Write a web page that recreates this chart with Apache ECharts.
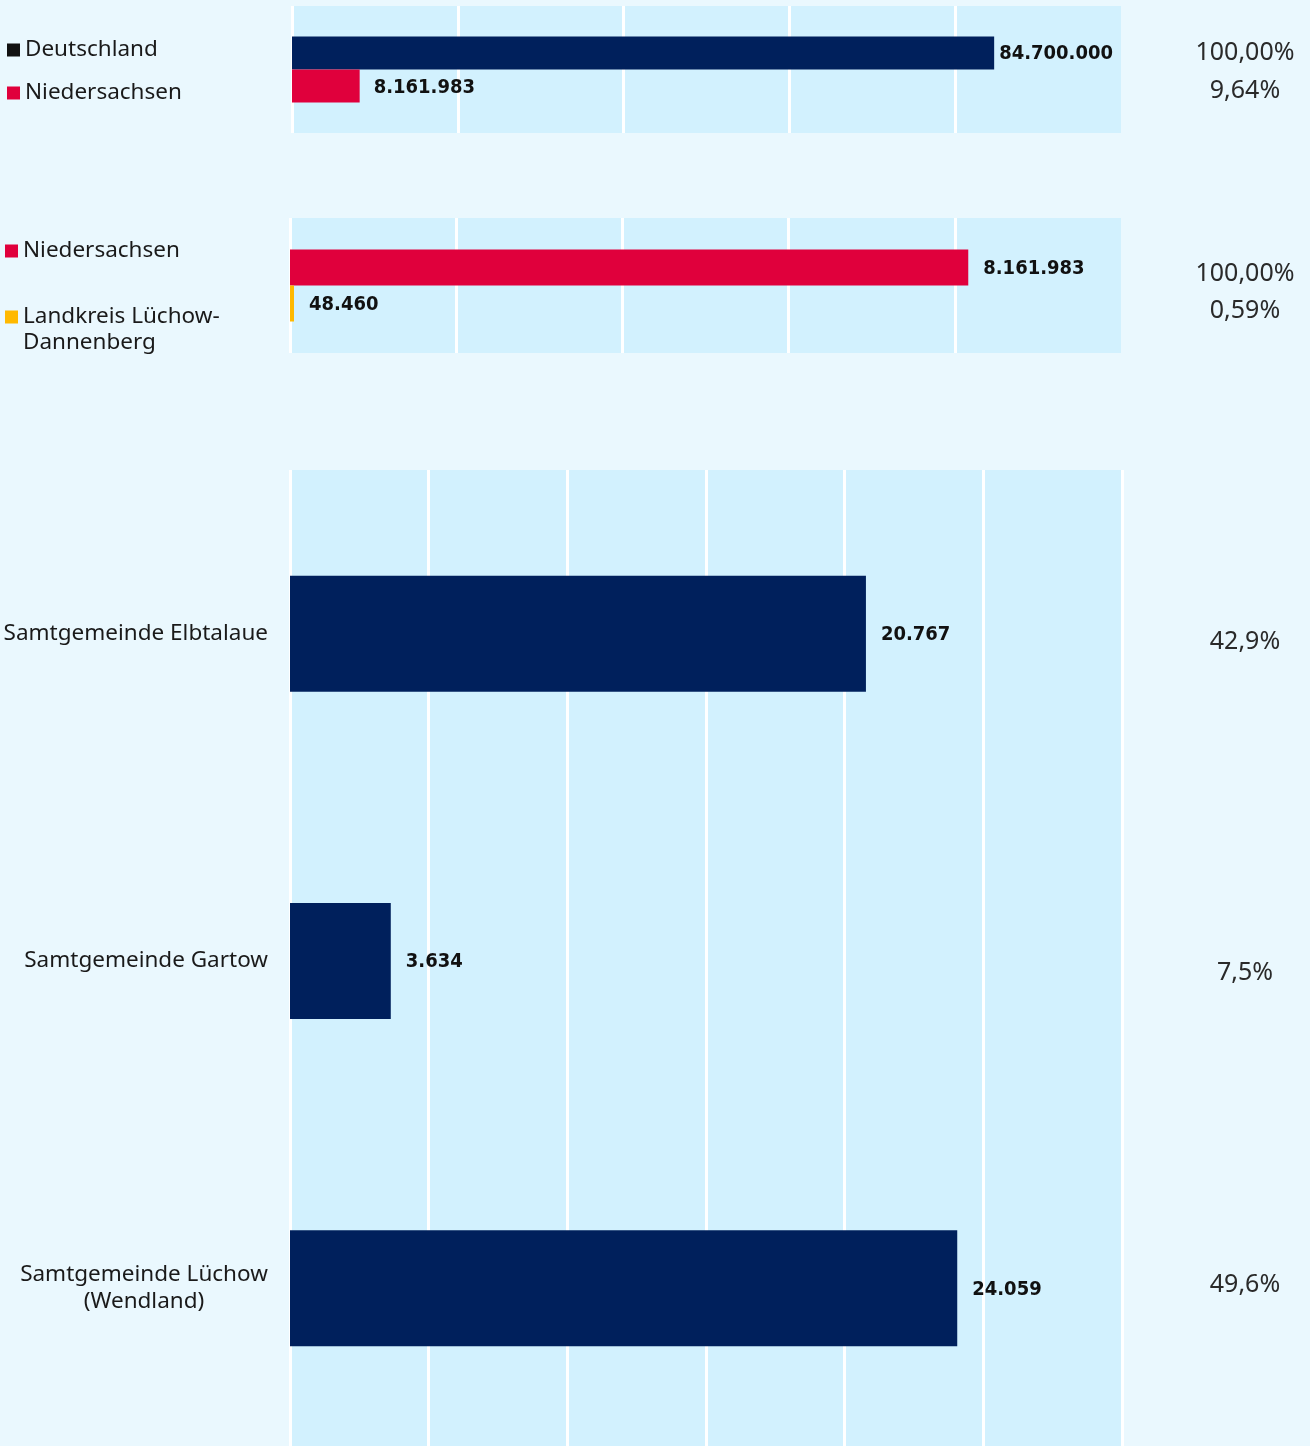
<!DOCTYPE html>
<html>
<head>
<meta charset="utf-8">
<script src="https://cdn.jsdelivr.net/npm/echarts@6/dist/echarts.min.js"></script>
<style>
html, body { margin: 0; padding: 0; background: #eaf8fe; overflow: hidden; }
#chart { width: 1310px; height: 1460px; }
</style>
</head>
<body>
<div id="chart"></div>
<script>
// Einwohner Deutschland / Niedersachsen
var top1Names = ['Deutschland', 'Niedersachsen'];
var top1Values = [84700000, 8161983];
var top1Pct = ['100,00%', '9,64%'];

// Einwohner Niedersachsen / Landkreis
var top2Names = ['Niedersachsen', 'Landkreis Lüchow-Dannenberg'];
var top2Values = [8161983, 48460];
var top2Pct = ['100,00%', '0,59%'];

// Samtgemeinden im Landkreis
var sgNames = ['Samtgemeinde Elbtalaue', 'Samtgemeinde Gartow', 'Samtgemeinde Lüchow\n(Wendland)'];
var sgValues = [20767, 3634, 24059];
var sgPct = ['42,9%', '7,5%', '49,6%'];

var NAVY = '#00205c', RED = '#e0003c', YELLOW = '#ffb900';
var FONT = '"Noto Sans", sans-serif';
var BOLD_FONT = '"DejaVu Sans Condensed", "DejaVu Sans", sans-serif';

function fmt(v) {
    return String(v).replace(/\B(?=(\d{3})+(?!\d))/g, '.');
}

function valueLabel(dist) {
    return {
        show: true,
        position: 'right',
        distance: dist,
        offset: [0, 1],
        formatter: function (p) { return fmt(p.value); },
        fontFamily: BOLD_FONT,
        fontWeight: 'bold',
        fontSize: 20,
        color: '#111'
    };
}

function xAx(idx, max, step, showMax) {
    return {
        gridIndex: idx, type: 'value', min: 0, max: max, interval: step,
        axisLabel: { show: false }, axisLine: { show: false }, axisTick: { show: false },
        splitLine: { show: true, showMaxLine: showMax, lineStyle: { color: '#ffffff', width: 3 } }
    };
}

function yAx(idx, data) {
    return {
        gridIndex: idx, type: 'category', data: data, inverse: true,
        axisLine: { show: false }, axisTick: { show: false }, axisLabel: { show: false }
    };
}

function leg(item, top, left, formatter) {
    var l = {
        data: [item], top: top, left: left, orient: 'vertical', padding: 0,
        itemWidth: 13, itemHeight: 13, itemGap: 0, icon: 'rect', selectedMode: false,
        textStyle: { fontFamily: FONT, fontSize: 22.5, color: '#1a1a1a', lineHeight: 26 }
    };
    if (formatter) l.formatter = formatter;
    return l;
}

var pctStyle = { fontFamily: FONT, fontSize: 25, fill: '#2a2a2a', align: 'center', verticalAlign: 'middle' };
function pctText(t, y) {
    return { type: 'text', x: 1245, y: y, style: Object.assign({ text: t }, pctStyle) };
}

var myChart = echarts.init(document.getElementById('chart'));

var option = {
    animation: false,
    backgroundColor: '#eaf8fe',
    grid: [
        { left: 292, top: 6, width: 829, height: 127, show: true, backgroundColor: '#d2f1fe', borderWidth: 0 },
        { left: 290, top: 218, width: 831, height: 135, show: true, backgroundColor: '#d2f1fe', borderWidth: 0 },
        { left: 290, top: 470, width: 832, height: 982, show: true, backgroundColor: '#d2f1fe', borderWidth: 0 }
    ],
    xAxis: [
        xAx(0, 100000000, 20000000, false),
        xAx(1, 10000000, 2000000, false),
        xAx(2, 30000, 5000, true)
    ],
    yAxis: [
        yAx(0, ['Bund']),
        yAx(1, ['Land']),
        {
            gridIndex: 2, type: 'category', data: sgNames, inverse: true,
            axisLine: { show: false }, axisTick: { show: false },
            axisLabel: {
                margin: 22, fontFamily: FONT, fontSize: 22.5, color: '#1a1a1a', lineHeight: 27,
                formatter: function (v) {
                    var lines = v.split('\n');
                    if (lines.length === 1) return v;
                    return lines.map(function (s) { return '{c|' + s + '}'; }).join('\n');
                },
                rich: { c: { width: 248, align: 'center', fontFamily: FONT, fontSize: 22.5, color: '#1a1a1a', lineHeight: 27 } }
            }
        }
    ],
    legend: [
        leg({ name: top1Names[0], itemStyle: { color: '#111' } }, 37, 7),
        leg(top1Names[1], 80, 7),
        leg(top2Names[0], 238, 5),
        leg(top2Names[1], 278, 5, function () { return '\nLandkreis Lüchow-\nDannenberg'; })
    ],
    series: [
        {
            name: top1Names[0], type: 'bar', xAxisIndex: 0, yAxisIndex: 0,
            data: [top1Values[0]], barWidth: 33, barGap: 0,
            itemStyle: { color: NAVY }, label: valueLabel(5)
        },
        {
            name: top1Names[1], type: 'bar', xAxisIndex: 0, yAxisIndex: 0,
            data: [top1Values[1]], barWidth: 33, barGap: 0,
            itemStyle: { color: RED }, label: Object.assign(valueLabel(14), { offset: [0, 2] })
        },
        {
            name: top2Names[0], type: 'bar', xAxisIndex: 1, yAxisIndex: 1,
            data: [top2Values[0]], barWidth: 36, barGap: 0,
            itemStyle: { color: RED }, label: valueLabel(15)
        },
        {
            name: top2Names[1], type: 'bar', xAxisIndex: 1, yAxisIndex: 1,
            data: [top2Values[1]], barWidth: 36, barGap: 0, barMinHeight: 3,
            itemStyle: { color: YELLOW }, label: valueLabel(15)
        },
        {
            name: 'Samtgemeinden', type: 'bar', xAxisIndex: 2, yAxisIndex: 2,
            data: sgValues, barWidth: 116,
            itemStyle: { color: NAVY }, label: valueLabel(15)
        }
    ],
    graphic: [
        pctText(top1Pct[0], 53), pctText(top1Pct[1], 91),
        pctText(top2Pct[0], 274), pctText(top2Pct[1], 311),
        pctText(sgPct[0], 642), pctText(sgPct[1], 973), pctText(sgPct[2], 1285)
    ]
};

myChart.setOption(option);
</script>
</body>
</html>
